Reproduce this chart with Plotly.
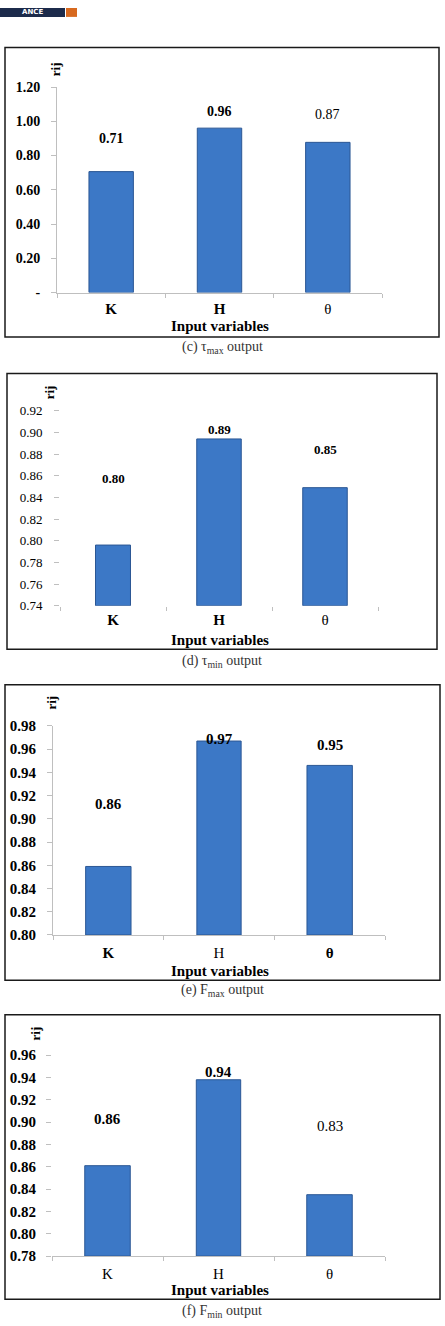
import plotly.graph_objects as go

W, H = 445, 1326

# ---------------- data ----------------
categories = ["K", "H", "θ"]

tau_max_values = [0.706, 0.960, 0.877]
tau_max_labels = ["0.71", "0.96", "0.87"]
tau_max_tickvals = [0.0, 0.2, 0.4, 0.6, 0.8, 1.0, 1.2]
tau_max_ticktext = ["-", "0.20", "0.40", "0.60", "0.80", "1.00", "1.20"]

tau_min_values = [0.796, 0.894, 0.849]
tau_min_labels = ["0.80", "0.89", "0.85"]
tau_min_tickvals = [0.74, 0.76, 0.78, 0.80, 0.82, 0.84, 0.86, 0.88, 0.90, 0.92]
tau_min_ticktext = ["0.74", "0.76", "0.78", "0.80", "0.82", "0.84", "0.86", "0.88", "0.90", "0.92"]

f_max_values = [0.859, 0.967, 0.946]
f_max_labels = ["0.86", "0.97", "0.95"]
f_max_tickvals = [0.80, 0.82, 0.84, 0.86, 0.88, 0.90, 0.92, 0.94, 0.96, 0.98]
f_max_ticktext = ["0.80", "0.82", "0.84", "0.86", "0.88", "0.90", "0.92", "0.94", "0.96", "0.98"]

f_min_values = [0.861, 0.938, 0.835]
f_min_labels = ["0.86", "0.94", "0.83"]
f_min_tickvals = [0.78, 0.80, 0.82, 0.84, 0.86, 0.88, 0.90, 0.92, 0.94, 0.96]
f_min_ticktext = ["0.78", "0.80", "0.82", "0.84", "0.86", "0.88", "0.90", "0.92", "0.94", "0.96"]

captions = ["(c) τ<sub>max</sub> output", "(d) τ<sub>min</sub> output",
            "(e) F<sub>max</sub> output", "(f) F<sub>min</sub> output"]
x_title = "Input variables"
y_title = "rij"
logo_text = "ANCE"

# ---------------- layout / style (pixels) ----------------
def fx(px):
    return px / W

def fy(py):
    return 1 - py / H

panels = [
    dict(values=tau_max_values, labels=tau_max_labels, tickvals=tau_max_tickvals,
         ticktext=tau_max_ticktext, yrange=(0.0, 1.2),
         plot_x=(57, 382), plot_y=(288, 80), box=(5, 40, 439, 333), cap_y=344,
         rij=(55, 62), xt_y=322, cat_bold=[True, True, False], tick_bold=True, tick_size=14,
         yline=True, xline=True, shifts=[33, 17, 28], lab_bold=[True, True, False],
         lab_size=14, widths=[0.41, 0.41, 0.41], standoff=8, cat_standoff=2),
    dict(values=tau_min_values, labels=tau_min_labels, tickvals=tau_min_tickvals,
         ticktext=tau_min_ticktext, yrange=(0.74, 0.92),
         plot_x=(60, 378), plot_y=(605, 407.7), box=(7, 370, 437, 649), cap_y=661,
         rij=(49, 389), xt_y=640, cat_bold=[True, True, False], tick_bold=False, tick_size=13,
         yline=False, xline=False, shifts=[67, 9, 38], lab_bold=[True, True, True],
         lab_size=13, widths=[0.33, 0.42, 0.42], standoff=9, cat_standoff=3),
    dict(values=f_max_values, labels=f_max_labels, tickvals=f_max_tickvals,
         ticktext=f_max_ticktext, yrange=(0.80, 0.98),
         plot_x=(53, 385), plot_y=(938.3, 726.7), box=(5, 685, 440, 984), cap_y=994,
         rij=(52, 703), xt_y=975, cat_bold=[True, False, True], tick_bold=True, tick_size=15,
         yline=True, xline=True, shifts=[62, 2, 20], lab_bold=[True, True, True],
         lab_size=15, widths=[0.41, 0.40, 0.41], standoff=8, cat_standoff=4),
    dict(values=f_min_values, labels=f_min_labels, tickvals=f_min_tickvals,
         ticktext=f_min_ticktext, yrange=(0.78, 0.96),
         plot_x=(52, 385), plot_y=(1263.3, 1060), box=(5, 1019, 440, 1307), cap_y=1319,
         rij=(35, 1038), xt_y=1298, cat_bold=[False, False, False], tick_bold=True, tick_size=15,
         yline=False, xline=True, shifts=[47, 8, 69], lab_bold=[True, True, False],
         lab_size=15, widths=[0.41, 0.40, 0.41], standoff=7, cat_standoff=4),
]

SERIF = "Liberation Serif, Times New Roman, serif"
BAR_COLOR = "#3C78C6"
BAR_LINE = "#2B5794"
AXIS_GRAY = "#BFBFBF"

fig = go.Figure()
shapes = []
annotations = []
layout_axes = {}

for i, p in enumerate(panels):
    n = "" if i == 0 else str(i + 1)
    xa, ya = "x" + n, "y" + n
    base = p["yrange"][0]
    fig.add_trace(go.Bar(
        x=categories, y=[v - base for v in p["values"]], base=base,
        xaxis=xa, yaxis=ya, width=p["widths"],
        marker=dict(color=BAR_COLOR, line=dict(color=BAR_LINE, width=1)),
        showlegend=False, hoverinfo="skip",
    ))

    cat_text = [f"<b>{c}</b>" if b else c for c, b in zip(categories, p["cat_bold"])]
    layout_axes["xaxis" + n] = dict(
        domain=[fx(p["plot_x"][0]), fx(p["plot_x"][1])], anchor=ya,
        type="category", range=[-0.5, 2.5], tickmode="array",
        tickvals=categories, ticktext=cat_text,
        tickfont=dict(family=SERIF, size=15, color="black"),
        showline=p["xline"], linecolor=AXIS_GRAY, linewidth=1,
        ticks="outside", tickson="boundaries", ticklen=4, tickcolor=AXIS_GRAY,
        ticklabelstandoff=p["cat_standoff"], showgrid=False, zeroline=False, fixedrange=True,
    )
    layout_axes["yaxis" + n] = dict(
        domain=[fy(p["plot_y"][0]), fy(p["plot_y"][1])], anchor=xa,
        range=list(p["yrange"]), tickmode="array",
        tickvals=p["tickvals"], ticktext=p["ticktext"],
        tickfont=dict(family=SERIF, size=p["tick_size"], color="black",
                      weight="bold" if p["tick_bold"] else "normal"),
        showline=p["yline"], linecolor=AXIS_GRAY, linewidth=1,
        ticks="outside", ticklen=5, tickcolor=AXIS_GRAY,
        ticklabelstandoff=p["standoff"],
        showgrid=False, zeroline=False, fixedrange=True,
    )

    # data labels
    for c, v, lab, sh, b in zip(categories, p["values"], p["labels"], p["shifts"], p["lab_bold"]):
        annotations.append(dict(
            x=c, y=v, xref=xa, yref=ya, text=f"<b>{lab}</b>" if b else lab,
            showarrow=False, yshift=sh, yanchor="middle", xanchor="center",
            font=dict(family=SERIF, size=p["lab_size"], color="black"),
        ))
    # y title "rij"
    annotations.append(dict(
        x=fx(p["rij"][0]), y=fy(p["rij"][1]), xref="paper", yref="paper",
        text=f"<b>{y_title}</b>", textangle=-90, showarrow=False,
        xanchor="center", yanchor="middle",
        font=dict(family=SERIF, size=13, color="black"),
    ))
    # x title
    annotations.append(dict(
        x=fx(219.5), y=fy(p["xt_y"]), xref="paper", yref="paper",
        text=f"<b>{x_title}</b>", showarrow=False, xanchor="center", yanchor="middle",
        font=dict(family=SERIF, size=15, color="black"),
    ))
    # caption
    annotations.append(dict(
        x=fx(222), y=fy(p["cap_y"]), xref="paper", yref="paper",
        text=captions[i], showarrow=False, xanchor="center", yanchor="middle",
        font=dict(family=SERIF, size=14, color="#333333"),
    ))
    # frame
    x0, y0, x1, y1 = p["box"]
    shapes.append(dict(type="rect", xref="paper", yref="paper",
                       x0=fx(x0), x1=fx(x1), y0=fy(y1), y1=fy(y0),
                       line=dict(color="#1A1A1A", width=1.5), fillcolor="rgba(0,0,0,0)"))

# partial logo at the very top
shapes.append(dict(type="rect", xref="paper", yref="paper", x0=0, x1=fx(65),
                   y0=fy(9), y1=1, line=dict(width=0), fillcolor="#1C2B4B"))
shapes.append(dict(type="rect", xref="paper", yref="paper", x0=fx(66), x1=fx(77),
                   y0=fy(9), y1=1, line=dict(width=0), fillcolor="#D7691F"))
annotations.append(dict(x=fx(32), y=fy(4.5), xref="paper", yref="paper",
                        text=f"<b>{logo_text}</b>",
                        showarrow=False, xanchor="center", yanchor="middle",
                        font=dict(family="DejaVu Sans", size=7, color="white")))

fig.update_layout(
    width=W, height=H, margin=dict(l=0, r=0, t=0, b=0),
    paper_bgcolor="white", plot_bgcolor="white",
    shapes=shapes, annotations=annotations, bargap=0.5,
    **layout_axes,
)

fig.write_html("out.html")
